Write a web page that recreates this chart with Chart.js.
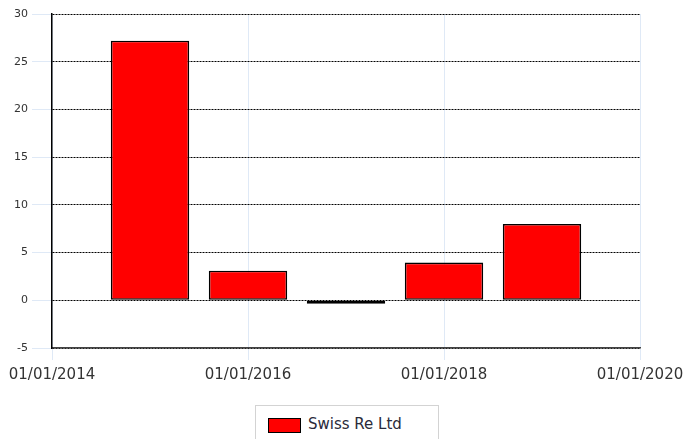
<!DOCTYPE html>
<html>
<head>
<meta charset="utf-8">
<script src="https://cdn.jsdelivr.net/npm/chart.js@4"></script>
<style>
    html, body { margin: 0; padding: 0; background: #fff; }
    #wrap { position: relative; width: 683px; height: 439px; overflow: hidden; }
    #chart { position: absolute; left: 0; top: 0; }
    #legend {
        position: absolute; left: 255px; top: 405px; width: 184px; height: 50px;
        border: 1px solid #d3d3d3; box-sizing: border-box; background: #fff;
        font: 15px "DejaVu Sans", sans-serif; color: #2a2a3a;
    }
    #legend .swatch {
        position: absolute; left: 12px; top: 12px; width: 31px; height: 13px;
        background: #ff0000; border: 1px solid #000;
    }
    #legend .label { position: absolute; left: 52px; top: 9px; }
</style>
</head>
<body>
<div id="wrap">
    <canvas id="chart" width="683" height="439"></canvas>
    <div id="legend"></div>
</div>
<script>
// years the bars sit on (01/01 of each year)
const years = [2015, 2016, 2017, 2018, 2019];
const seriesName = "Swiss Re Ltd";
const seriesValues = [27.2, 3.1, -0.35, 3.95, 8.0];
const xTicks = [2014, 2016, 2018, 2020];
const yTicks = [-5, 0, 5, 10, 15, 20, 25, 30];

Chart.defaults.font.family = "'DejaVu Sans', sans-serif";
Chart.defaults.color = "#333";

const points = years.map((year, i) => ({ x: year, y: seriesValues[i] }));

new Chart(document.getElementById("chart").getContext("2d"), {
    type: "bar",
    data: {
        datasets: [
            {
                label: seriesName,
                data: points,
                backgroundColor: "#ff0000",
                borderColor: "#000",
                borderWidth: 1.6,
                borderSkipped: false,
                barPercentage: 1,
                categoryPercentage: 0.8,
            },
        ],
    },
    options: {
        responsive: false,
        animation: false,
        layout: { padding: { left: 0, top: 14, right: 43, bottom: 0 } },
        plugins: { legend: { display: false }, tooltip: { enabled: false } },
        scales: {
            x: {
                type: "linear",
                offset: false,
                min: xTicks[0],
                max: xTicks[xTicks.length - 1],
                afterBuildTicks: (scale) => {
                    scale.ticks = xTicks.map((v) => ({ value: v }));
                },
                afterFit: (scale) => {
                    scale.height = 91;
                    scale.paddingLeft = 0;
                    scale.paddingRight = 0;
                },
                ticks: {
                    font: { size: 15 },
                    color: "#333",
                    padding: 6,
                    maxRotation: 0,
                    callback: (value) => "01/01/" + value,
                },
                grid: {
                    offset: false,
                    color: "#dfe9f6",
                    tickColor: "#dfe9f6",
                    tickLength: 12,
                    lineWidth: 1,
                },
                border: { color: "#444", width: 1.5 },
            },
            y: {
                min: yTicks[0],
                max: yTicks[yTicks.length - 1],
                afterBuildTicks: (scale) => {
                    scale.ticks = yTicks.map((v) => ({ value: v }));
                },
                afterFit: (scale) => {
                    scale.width = 52;
                },
                ticks: {
                    font: { size: 11 },
                    color: "#333",
                    padding: 4,
                },
                grid: {
                    color: "#000",
                    tickColor: "#dfe9f6",
                    tickLength: 20,
                    tickBorderDash: [],
                    lineWidth: 1,
                },
                border: { color: "#000", width: 1.5, dash: [2, 1] },
            },
        },
    },
});

const legendEl = document.getElementById("legend");
legendEl.innerHTML = '<span class="swatch"></span><span class="label"></span>';
legendEl.querySelector(".label").textContent = seriesName;
</script>
</body>
</html>
